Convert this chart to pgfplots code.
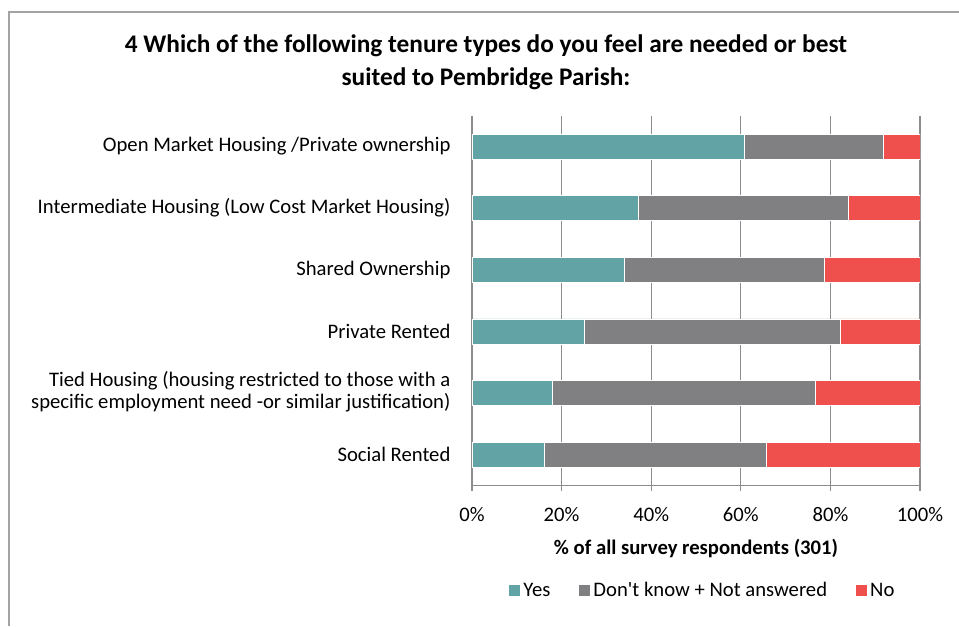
\documentclass[border=0pt]{standalone}
\usepackage{pgfplots}
\pgfplotsset{compat=1.18}
\usepackage{fontspec}
\setmainfont{Carlito}
\definecolor{cyes}{HTML}{62A4A6}
\definecolor{cdk}{HTML}{808083}
\definecolor{cno}{HTML}{F0504D}
\definecolor{axgray}{HTML}{8C8C8C}
\newcommand{\sq}{\XeTeXglyph\XeTeXcharglyph"0027\relax}
\begin{document}
\begin{tikzpicture}[x=0.75pt,y=0.75pt]
\useasboundingbox (0,0) rectangle (959,626);
\fill[white] (0,0) rectangle (959,626);
\draw[axgray!80, line width=1.2pt] (9,0) -- (9,614) -- (970,614);
\node[font=\fontsize{19}{24.75}\selectfont\bfseries, align=center] at (486,564) {4 Which of the following tenure types do you feel are needed or best\\suited to Pembridge Parish:};
\begin{axis}[
  at={(354pt,105.5pt)}, anchor=south west,
  width=336pt, height=277.2pt, scale only axis,
  xbar stacked, bar width=0.406,
  xmin=0, xmax=100, ymin=-0.5, ymax=5.5, y dir=reverse,
  axis x line*=bottom, axis y line*=left,
  axis line style={axgray, line width=0.8pt},
  xtick={0,20,...,100},
  xticklabel={\pgfmathprintnumber{\tick}\%},
  /pgf/number format/assume math mode=true,
  xmajorgrids, grid style={axgray, line width=0.8pt},
  tick align=outside, major tick length=4pt,
  tick style={axgray, line width=0.8pt},
  xticklabel style={font=\fontsize{15.5}{18}\selectfont, yshift=-9pt},
  ytick={0,1,2,3,4,5},
  yticklabels={Open Market Housing /Private ownership, Intermediate Housing (Low Cost Market Housing), Shared Ownership, Private Rented, {\raisebox{-3.5pt}{\begin{tabular}{@{}r@{}}Tied Housing (housing restricted to those with a\\specific employment need -or similar justification)\end{tabular}}}, Social Rented},
  yticklabel style={font=\fontsize{15.5}{16}\selectfont, align=right, inner sep=0pt, xshift=-12pt},
  ytick style={draw=none},
  extra y ticks={-0.5,0.5,1.5,2.5,3.5,4.5,5.5},
  extra y tick labels={},
  extra y tick style={major tick length=4pt, tick style={axgray, line width=0.8pt}, grid=none},
  xlabel={\textbf{\% of all survey respondents (301)}},
  xlabel style={font=\fontsize{15.5}{18}\selectfont, yshift=-6pt},
  legend style={at={(0.515,-0.285)}, anchor=center, draw=none, fill=none, legend columns=3,
    font=\fontsize{15.5}{18}\selectfont,
    /tikz/every even column/.append style={column sep=19pt}},
  legend image code/.code={\fill[#1] (0pt,-4.5pt) rectangle (9pt,4.5pt);},
]
\addplot[fill=cyes, draw=white, line width=0.3pt] coordinates {(60.7,0) (37.0,1) (33.9,2) (25.0,3) (18.0,4) (16.1,5)};
\addplot[fill=cdk, draw=white, line width=0.3pt] coordinates {(31.1,0) (47.0,1) (44.8,2) (57.2,3) (58.7,4) (49.5,5)};
\addplot[fill=cno, draw=white, line width=0.3pt] coordinates {(8.2,0) (16.0,1) (21.3,2) (17.8,3) (23.3,4) (34.4,5)};
\legend{Yes, Don\sq t know + Not answered, No}
\end{axis}
\end{tikzpicture}
\end{document}
